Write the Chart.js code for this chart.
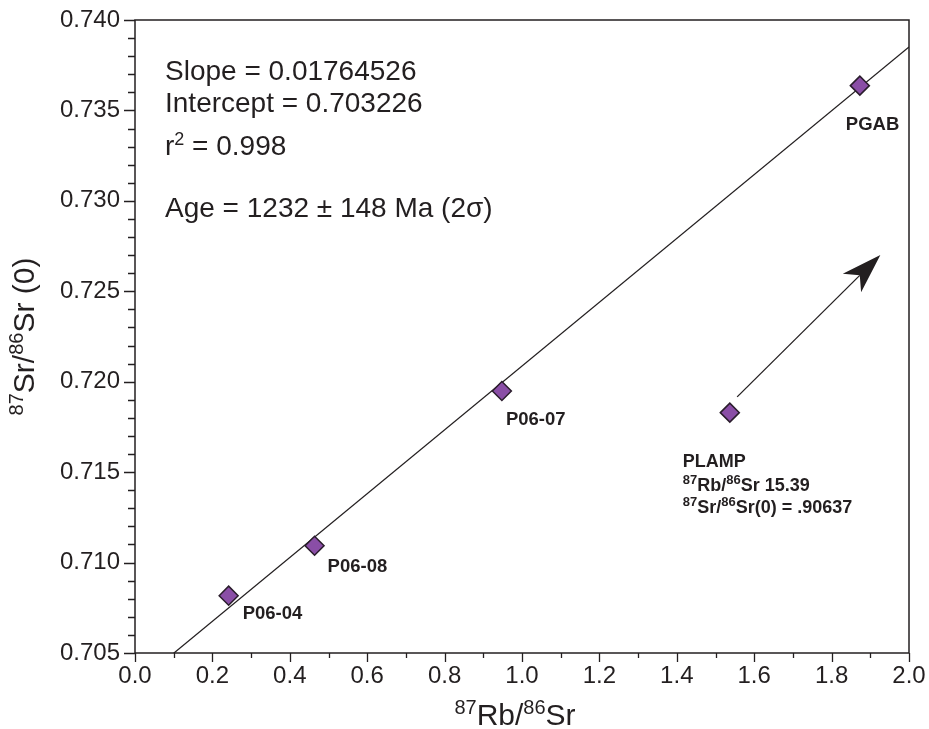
<!DOCTYPE html>
<html>
<head>
<meta charset="utf-8">
<script src="https://cdn.jsdelivr.net/npm/chart.js@4.4.1/dist/chart.umd.min.js"></script>
<style>
  html, body { margin: 0; padding: 0; background: #fff; }
  #wrap { width: 929px; height: 729px; }
</style>
</head>
<body>
<div id="wrap"><canvas id="isochron"></canvas></div>
<script>
"use strict"

// samples
const sampleNames = ["P06-04", "P06-08", "P06-07", "PLAMP", "PGAB"];
const rbSr = [0.242, 0.464, 0.948, 1.537, 1.873];
const srSr = [0.70817, 0.71093, 0.71949, 0.71829, 0.73637];

// regression line end points
const fitX = [0.1, 2.0];
const fitY = [0.70499, 0.73851];

const xTicks = [0.0, 0.2, 0.4, 0.6, 0.8, 1.0, 1.2, 1.4, 1.6, 1.8, 2.0];
const yTicks = [0.705, 0.710, 0.715, 0.720, 0.725, 0.730, 0.735, 0.740];

const statLines = ["Slope = 0.01764526", "Intercept = 0.703226", "r^{2} = 0.998", "Age = 1232 \u00b1 148 Ma (2\u03c3)"];
const plampNote = ["PLAMP", "^{87}Rb/^{86}Sr 15.39", "^{87}Sr/^{86}Sr(0) = .90637"];
const xTitle = "^{87}Rb/^{86}Sr";
const yTitle = "^{87}Sr/^{86}Sr (0)";

// arrow from/to in data units
const arrowFrom = [1.556, 0.71916];
const arrowTo = [1.926, 0.72701];

// label placement (px from marker centre) -- layout only
const labelOffsets = [[14, 23], [13, 26], [4, 34], [-47, 54], [-14, 44]];

const FONT = "'Liberation Sans', Arial, Helvetica, sans-serif";
const INK = "#231f20";

function runsOf(str) {
    const out = [];
    const re = /\^\{(.*?)\}/g;
    let last = 0, m;
    while ((m = re.exec(str)) !== null) {
        if (m.index > last) out.push([str.slice(last, m.index), false]);
        out.push([m[1], true]);
        last = re.lastIndex;
    }
    if (last < str.length) out.push([str.slice(last), false]);
    return out;
}

function drawRich(ctx, str, x, y, size, bold, align, supRatio) {
    const w = bold ? "bold " : "";
    const supSize = Math.round(size * (supRatio || 0.64));
    const runs = runsOf(str);
    let total = 0;
    runs.forEach(r => {
        ctx.font = w + (r[1] ? supSize : size) + "px " + FONT;
        total += ctx.measureText(r[0]).width;
    });
    let cx = align === "center" ? x - total / 2 : x;
    ctx.textAlign = "left";
    ctx.textBaseline = "alphabetic";
    runs.forEach(r => {
        ctx.font = w + (r[1] ? supSize : size) + "px " + FONT;
        ctx.fillText(r[0], cx, r[1] ? y - size * 0.36 : y);
        cx += ctx.measureText(r[0]).width;
    });
}

const decorations = {
    id: "decorations",
    afterDraw(chart) {
        const ctx = chart.ctx;
        const a = chart.chartArea;
        const xs = chart.scales.x, ys = chart.scales.y;
        ctx.save();
        ctx.strokeStyle = INK;
        ctx.fillStyle = INK;

        // frame
        ctx.lineWidth = 1.5;
        ctx.strokeRect(a.left, a.top, a.right - a.left, a.bottom - a.top);

        // tick marks, majors and minors
        ctx.lineWidth = 1.3;
        ctx.beginPath();
        for (let i = 0; i <= 35; i++) {
            const py = Math.round(ys.getPixelForValue(0.705 + i * 0.001)) + 0.5;
            const len = i % 5 === 0 ? 11 : 7;
            ctx.moveTo(a.left - len, py);
            ctx.lineTo(a.left, py);
        }
        for (let i = 0; i <= 20; i++) {
            const px = Math.round(xs.getPixelForValue(i * 0.1)) + 0.5;
            const len = i % 2 === 0 ? 9 : 5;
            ctx.moveTo(px, a.bottom);
            ctx.lineTo(px, a.bottom + len);
        }
        ctx.stroke();

        // stats block
        const statY = [80, 111.7, 155, 216.7];
        statLines.forEach((s, i) => drawRich(ctx, s, a.left + 30, statY[i], 28, false, "left"));

        // sample labels
        sampleNames.forEach((name, i) => {
            const px = xs.getPixelForValue(rbSr[i]) + labelOffsets[i][0];
            const py = ys.getPixelForValue(srSr[i]) + labelOffsets[i][1];
            if (name === "PLAMP") {
                plampNote.forEach((s, j) => drawRich(ctx, s, px, py + [0, 24, 46][j], 18, true, "left", 0.7));
            } else {
                drawRich(ctx, name, px, py, 18.5, true, "left");
            }
        });

        // arrow
        const x0 = xs.getPixelForValue(arrowFrom[0]), y0 = ys.getPixelForValue(arrowFrom[1]);
        const x1 = xs.getPixelForValue(arrowTo[0]), y1 = ys.getPixelForValue(arrowTo[1]);
        const ang = Math.atan2(y1 - y0, x1 - x0);
        const ux = Math.cos(ang), uy = Math.sin(ang);
        const headLen = 40, half = 13, notch = 29;
        ctx.lineWidth = 1.3;
        ctx.beginPath();
        ctx.moveTo(x0, y0);
        ctx.lineTo(x1 - ux * notch, y1 - uy * notch);
        ctx.stroke();
        ctx.beginPath();
        ctx.moveTo(x1, y1);
        ctx.lineTo(x1 - ux * headLen - uy * half, y1 - uy * headLen + ux * half);
        ctx.lineTo(x1 - ux * notch, y1 - uy * notch);
        ctx.lineTo(x1 - ux * headLen + uy * half, y1 - uy * headLen - ux * half);
        ctx.closePath();
        ctx.fill();

        // axis titles
        drawRich(ctx, xTitle, 515, 725, 30, false, "center", 0.66);
        ctx.translate(34, (a.top + a.bottom) / 2);
        ctx.rotate(-Math.PI / 2);
        drawRich(ctx, yTitle, 0, 0, 30, false, "center", 0.66);
        ctx.restore();
    }
};

new Chart("isochron", {
    type: "scatter",
    data: {
        datasets: [{
            data: rbSr.map((v, i) => ({ x: v, y: srSr[i] })),
            pointStyle: "rectRot",
            pointRadius: 9.5,
            backgroundColor: "#8a4ea6",
            borderColor: "#2a1d2c",
            borderWidth: 1.5,
            order: 0
        }, {
            data: fitX.map((v, i) => ({ x: v, y: fitY[i] })),
            showLine: true,
            pointRadius: 0,
            borderColor: INK,
            borderWidth: 1.3,
            order: 1
        }]
    },
    options: {
        responsive: true,
        maintainAspectRatio: false,
        animation: false,
        events: [],
        layout: { padding: { top: 20, right: 20, left: 0, bottom: 0 } },
        plugins: { legend: { display: false }, tooltip: { enabled: false } },
        scales: {
            x: {
                type: "linear", min: 0, max: 2,
                afterBuildTicks: s => { s.ticks = xTicks.map(v => ({ value: v })); },
                afterFit: s => { s.height = 76; s.paddingLeft = 0; s.paddingRight = 0; },
                grid: { drawOnChartArea: false, drawTicks: false },
                border: { display: false },
                ticks: {
                    padding: 9, color: INK, maxRotation: 0, autoSkip: false,
                    font: { family: FONT, size: 24 },
                    callback: v => v.toFixed(1)
                }
            },
            y: {
                type: "linear", min: 0.705, max: 0.740,
                afterBuildTicks: s => { s.ticks = yTicks.map(v => ({ value: v })); },
                afterFit: s => { s.width = 135; s.paddingTop = 0; s.paddingBottom = 0; },
                grid: { drawOnChartArea: false, drawTicks: false },
                border: { display: false },
                ticks: {
                    padding: 15, color: INK, autoSkip: false,
                    font: { family: FONT, size: 24 },
                    callback: v => v.toFixed(3)
                }
            }
        }
    },
    plugins: [decorations]
});
</script>
</body>
</html>
